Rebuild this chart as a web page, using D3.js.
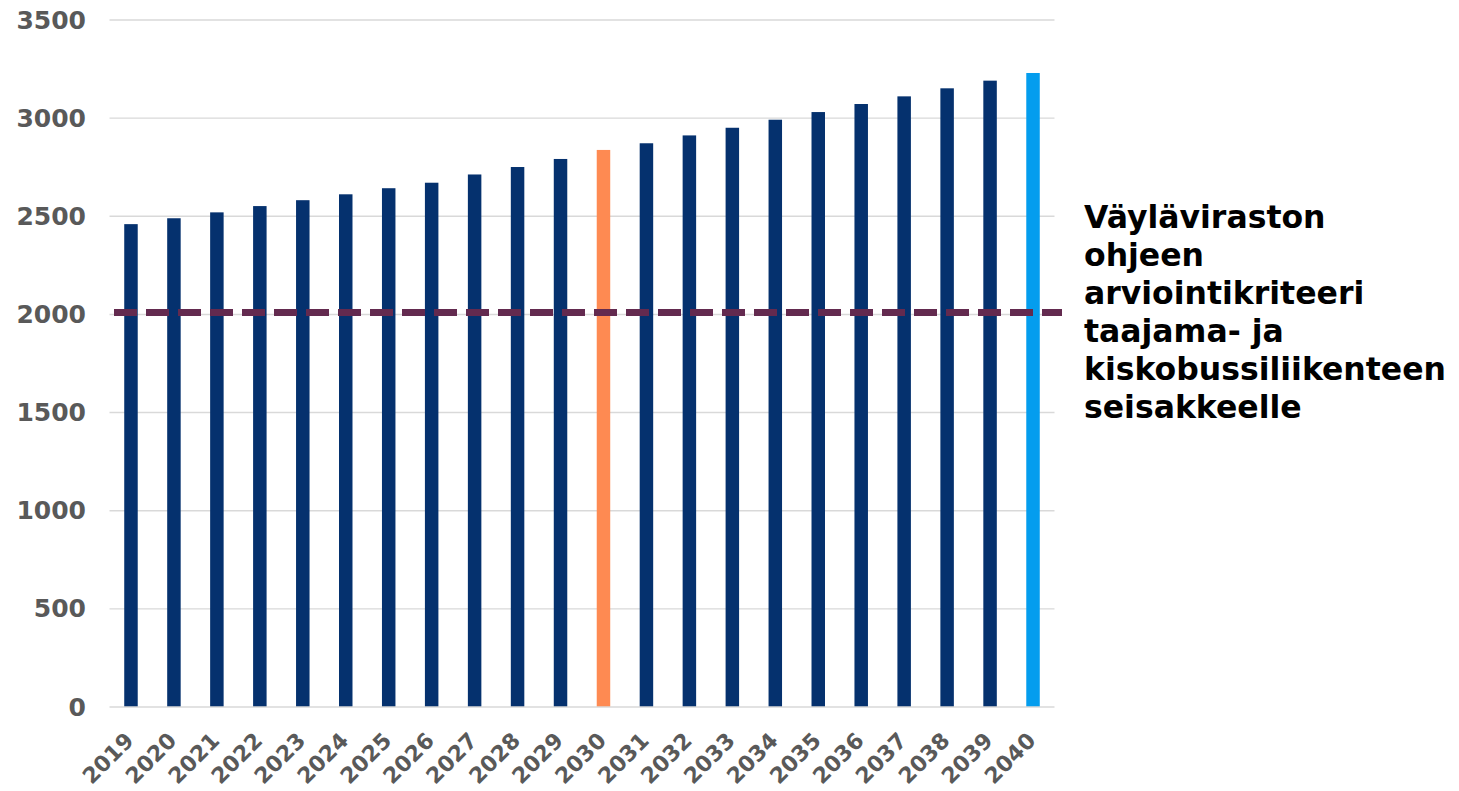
<!DOCTYPE html>
<html>
<head>
<meta charset="utf-8">
<script src="https://cdn.jsdelivr.net/npm/d3@7"></script>
<style>
  html, body { margin: 0; padding: 0; background: #ffffff; }
  svg { display: block; }
  text { font-family: "DejaVu Sans", Verdana, sans-serif; font-weight: bold; }
</style>
</head>
<body>
<svg id="chart" width="1459" height="791"></svg>
<script>
// Yearly values (2019–2040)
const years = ["2019","2020","2021","2022","2023","2024","2025","2026","2027","2028","2029",
               "2030","2031","2032","2033","2034","2035","2036","2037","2038","2039","2040"];
const values = [2460, 2490, 2520, 2552, 2582, 2612, 2643, 2671, 2713, 2751, 2792,
                2838, 2872, 2912, 2951, 2992, 3031, 3072, 3111, 3152, 3191, 3230];
const yTicks = [0, 500, 1000, 1500, 2000, 2500, 3000, 3500];
const criterion = 2010;
const noteLines = ["Väyläviraston", "ohjeen", "arviointikriteeri", "taajama- ja",
                   "kiskobussiliikenteen", "seisakkeelle"];
const highlight = { "2030": "#fe8a52", "2040": "#049dee" };
const baseColor = "#05316e";

const svg = d3.select("#chart");
const margin = { left: 109.5, right: 1054.5, top: 20, bottom: 707 };

const x = d3.scaleBand()
  .domain(years)
  .range([margin.left, margin.right])
  .paddingInner(0.686)
  .paddingOuter(0.343);

const y = d3.scaleLinear()
  .domain([0, 3500])
  .range([margin.bottom, margin.top]);

// Horizontal gridlines
svg.append("g")
  .selectAll("line")
  .data(yTicks.filter(d => d > 0))
  .join("line")
  .attr("x1", margin.left)
  .attr("x2", margin.right)
  .attr("y1", d => y(d))
  .attr("y2", d => y(d))
  .attr("stroke", "#d9d9d9")
  .attr("stroke-width", 1.4);

// Y axis labels
const yAxis = d3.axisLeft(y).tickValues(yTicks).tickFormat(d3.format("d")).tickSize(0).tickPadding(0);
const gy = svg.append("g").attr("transform", `translate(${margin.left - 23.5},0)`).call(yAxis);
gy.select(".domain").remove();
gy.selectAll("text")
  .attr("fill", "#595959")
  .attr("font-size", 25)
  .attr("font-family", "DejaVu Sans")
  .attr("font-weight", "bold");

// Bars
svg.append("g")
  .selectAll("rect")
  .data(years.map((yr, i) => ({ yr, v: values[i] })))
  .join("rect")
  .attr("x", d => x(d.yr))
  .attr("width", x.bandwidth())
  .attr("y", d => y(d.v))
  .attr("height", d => y(0) - y(d.v))
  .attr("fill", d => highlight[d.yr] || baseColor);

// Baseline
svg.append("line")
  .attr("x1", margin.left)
  .attr("x2", margin.right)
  .attr("y1", y(0))
  .attr("y2", y(0))
  .attr("stroke", "#d9d9d9")
  .attr("stroke-width", 1.6);

// X axis labels, rotated
const xAxis = d3.axisBottom(x).tickSize(0).tickPadding(0);
const gx = svg.append("g").attr("transform", `translate(0,${y(0)})`).call(xAxis);
gx.select(".domain").remove();
gx.selectAll("text")
  .attr("fill", "#595959")
  .attr("font-size", 22)
  .attr("font-family", "DejaVu Sans")
  .attr("font-weight", "bold")
  .attr("text-anchor", "end")
  .attr("dy", null)
  .attr("y", 0)
  .attr("transform", "translate(4,35) rotate(-45)");

// Criterion line (dashed)
svg.append("line")
  .attr("x1", margin.left + 4.5)
  .attr("x2", margin.right + 7.5)
  .attr("y1", y(criterion))
  .attr("y2", y(criterion))
  .attr("stroke", "#632a4f")
  .attr("stroke-width", 7)
  .attr("stroke-dasharray", "23 9");

// Annotation text
const note = svg.append("text")
  .attr("x", 1084)
  .attr("y", 228)
  .attr("fill", "#000000")
  .attr("font-size", 31.5);
note.selectAll("tspan")
  .data(noteLines)
  .join("tspan")
  .attr("x", 1084)
  .attr("dy", (d, i) => i === 0 ? 0 : 38)
  .text(d => d);
</script>
</body>
</html>
